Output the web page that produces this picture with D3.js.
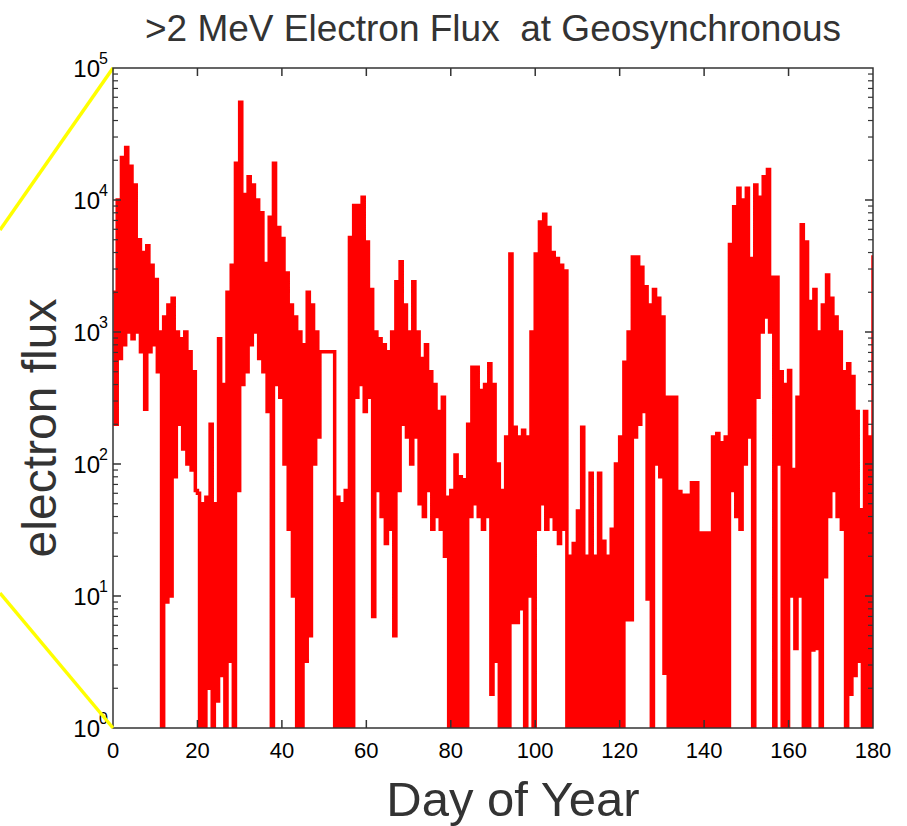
<!DOCTYPE html>
<html><head><meta charset="utf-8">
<script src="https://cdn.jsdelivr.net/npm/d3@7"></script>
<style>body{margin:0;background:#fff;} svg{display:block;} text{white-space:pre;}</style>
</head><body>
<svg id="c" width="907" height="826"></svg>
<script>
const titleText = ">2 MeV Electron Flux  at Geosynchronous";
const xLabelText = "Day of Year";
const yLabelText = "electron flux";
const xTickValues = [0, 20, 40, 60, 80, 100, 120, 140, 160, 180];
const yTickExponents = [0, 1, 2, 3, 4, 5];
// daily maximum (day side) flux, days 0..180
const dailyMax = [
  2000, 10000, 21000, 25000, 18000, 13000, 5000, 4000, 4500, 3200,
  2500, 1000, 1300, 1600, 1800, 1000, 890, 1000, 710, 500,
  60, 50, 56, 200, 50, 890, 400, 2000, 3200, 19000,
  55000, 11000, 15000, 13000, 10000, 8000, 3300, 7400, 19000, 6200,
  5100, 2800, 1600, 1300, 1000, 800, 2000, 1600, 1000, 710,
  710, 710, 710, 56, 50, 63, 5200, 9100, 9100, 10500,
  4800, 2100, 1000, 890, 800, 710, 1000, 2400, 3400, 1600,
  1000, 2400, 1000, 630, 800, 500, 400, 250, 320, 56,
  63, 117, 80, 76, 200, 540, 540, 360, 400, 575,
  400, 100, 63, 160, 3900, 190, 160, 180, 160, 1000,
  3900, 6800, 7800, 6200, 4000, 3600, 3200, 2900, 20, 25,
  44, 190, 20, 85, 20, 85, 26, 20, 32, 100,
  160, 590, 1000, 3700, 3700, 3100, 2200, 1600, 2100, 1800,
  1300, 320, 320, 320, 62, 58, 58, 72, 72, 30,
  30, 30, 160, 170, 145, 160, 4600, 8900, 12300, 10000,
  12300, 3600, 13000, 10500, 15000, 17000, 2600, 2600, 500, 400,
  510, 91, 320, 6500, 4800, 1700, 2100, 1000, 1600, 2700,
  1800, 1300, 1000, 500, 575, 460, 250, 45, 250, 160,
  3700
];
// daily minimum (night side) flux, days 0..180 (values below 1 fall off the plot)
const dailyMin = [
  200, 630, 800, 1000, 890, 1000, 710, 260, 710, 800,
  500, 0.5, 9, 10, 80, 200, 130, 100, 90, 63,
  0.5, 0.5, 2, 0.5, 1.6, 2.5, 0.5, 3.2, 0.5, 63,
  400, 500, 800, 1000, 630, 500, 250, 0.5, 400, 320,
  100, 32, 10, 0.5, 0.5, 3.2, 5, 100, 160, 710,
  710, 710, 0.5, 0.5, 0.5, 0.5, 0.5, 320, 400, 250,
  320, 7, 63, 40, 25, 32, 5, 63, 200, 160,
  100, 160, 50, 40, 63, 32, 40, 32, 20, 0.5,
  0.5, 0.5, 0.5, 0.5, 40, 50, 40, 32, 40, 1.8,
  3.2, 0.5, 0.5, 0.5, 6.3, 6.3, 8, 0.5, 10, 0.5,
  32, 50, 32, 40, 32, 25, 32, 0.5, 0.5, 0.5,
  0.5, 0.5, 0.5, 0.5, 0.5, 0.5, 0.5, 0.5, 0.5, 0.5,
  0.5, 6.6, 6.6, 160, 200, 250, 9.5, 0.5, 100, 80,
  2.6, 0.5, 0.5, 0.5, 0.5, 0.5, 0.5, 0.5, 0.5, 0.5,
  0.5, 0.5, 0.5, 0.5, 0.5, 0.5, 63, 40, 32, 100,
  160, 0.5, 320, 1000, 1300, 1000, 0.5, 100, 0.5, 0.5,
  10, 4, 10, 0.5, 0.5, 3.9, 4, 0.5, 14, 40,
  63, 40, 32, 0.5, 1.8, 2.5, 3.2, 0.5, 0.5, 0.5,
  100
];

const W = 907, H = 826;
const m = {left: 113, right: 873, top: 68, bottom: 728};
const svg = d3.select("#c");
const font = "'Liberation Sans', Arial, sans-serif";

const x = d3.scaleLinear().domain([0, 180]).range([m.left, m.right]);
const y = d3.scaleLog().domain([1, 1e5]).range([m.bottom, m.top]);

svg.append("rect").attr("width", W).attr("height", H).attr("fill", "#fff");

// yellow guide line (upper)
svg.append("line").attr("x1", 0).attr("y1", 230).attr("x2", x(0)).attr("y2", y(1e5))
  .attr("stroke", "#ffff00").attr("stroke-width", 3.5);

svg.append("clipPath").attr("id", "clip").append("rect")
  .attr("x", m.left).attr("y", m.top).attr("width", m.right - m.left).attr("height", m.bottom - m.top);

const pts = [];
dailyMax.forEach((v, i) => {
  pts.push([i, v]);
  pts.push([i + 0.5, dailyMin[i]]);
});
const line = d3.line().x(d => x(d[0])).y(d => y(d[1])).curve(d3.curveStepAfter);
svg.append("path").attr("clip-path", "url(#clip)")
  .attr("d", line(pts)).attr("fill", "none").attr("stroke", "#ff0000")
  .attr("stroke-width", 3.5).attr("stroke-linejoin", "miter");

// frame
const g = svg.append("g");
g.append("rect").attr("x", m.left).attr("y", m.top).attr("width", m.right - m.left).attr("height", m.bottom - m.top)
  .attr("fill", "none").attr("stroke", "#333").attr("stroke-width", 1.5);

xTickValues.forEach(v => {
  if (v > 0 && v < 180) {
    g.append("line").attr("x1", x(v)).attr("x2", x(v)).attr("y1", m.bottom).attr("y2", m.bottom - 8).attr("stroke", "#333").attr("stroke-width", 1.5);
    g.append("line").attr("x1", x(v)).attr("x2", x(v)).attr("y1", m.top).attr("y2", m.top + 8).attr("stroke", "#333").attr("stroke-width", 1.5);
  }
  svg.append("text").attr("x", x(v)).attr("y", m.bottom + 30).attr("text-anchor", "middle")
    .attr("font-family", font).attr("font-size", 22).attr("fill", "#000").text(v);
});

yTickExponents.forEach(e => {
  const v = Math.pow(10, e);
  if (e > 0 && e < 5) {
    g.append("line").attr("x1", m.left).attr("x2", m.left + 8).attr("y1", y(v)).attr("y2", y(v)).attr("stroke", "#333").attr("stroke-width", 1.5);
    g.append("line").attr("x1", m.right).attr("x2", m.right - 8).attr("y1", y(v)).attr("y2", y(v)).attr("stroke", "#333").attr("stroke-width", 1.5);
  }
  if (e < 5) {
    for (let k = 2; k <= 9; k++) {
      const mv = k * v;
      g.append("line").attr("x1", m.left).attr("x2", m.left + 5).attr("y1", y(mv)).attr("y2", y(mv)).attr("stroke", "#333").attr("stroke-width", 1.2);
      g.append("line").attr("x1", m.right).attr("x2", m.right - 5).attr("y1", y(mv)).attr("y2", y(mv)).attr("stroke", "#333").attr("stroke-width", 1.2);
    }
  }
  svg.append("text").attr("x", 100).attr("y", y(v) + 9).attr("text-anchor", "end")
    .attr("font-family", font).attr("font-size", 24).attr("fill", "#000").text("10");
  svg.append("text").attr("x", 99).attr("y", y(v) - 4).attr("text-anchor", "start")
    .attr("font-family", font).attr("font-size", 16).attr("fill", "#000").text(e);
});

// lower yellow guide line (drawn over the label)
svg.append("line").attr("x1", 0).attr("y1", 593).attr("x2", x(0)).attr("y2", y(1))
  .attr("stroke", "#ffff00").attr("stroke-width", 3.5);

svg.append("text").attr("x", 493).attr("y", 41).attr("text-anchor", "middle")
  .attr("font-family", font).attr("font-size", 37).attr("fill", "#333").text(titleText);
svg.append("text").attr("x", 513).attr("y", 816).attr("text-anchor", "middle")
  .attr("font-family", font).attr("font-size", 49).attr("fill", "#333").text(xLabelText);
svg.append("text").attr("transform", `translate(56, 428) rotate(-90)`)
  .attr("text-anchor", "middle").attr("font-family", font).attr("font-size", 48).attr("fill", "#333").text(yLabelText);
</script>
</body></html>
